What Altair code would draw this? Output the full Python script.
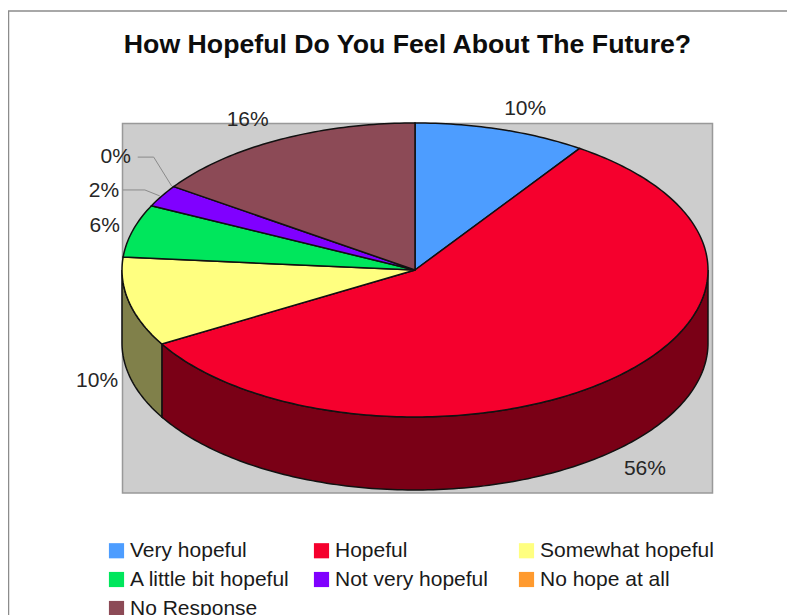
import math
import altair as alt

TITLE = "How Hopeful Do You Feel About The Future?"
categories = ["Very hopeful", "Hopeful", "Somewhat hopeful", "A little bit hopeful",
              "Not very hopeful", "No hope at all", "No Response"]
# slice sizes as read from the drawn sweep of each wedge, and the percentages printed beside them
shares = [9.5, 57.1, 9.8, 5.8, 2.4, 0, 15.4]
printed = ["10%", "56%", "10%", "6%", "2%", "0%", "16%"]
colors = ["#4d9dff", "#f5002d", "#ffff80", "#00e65c", "#8000ff", "#ff9a2e", "#8c4a56"]
wall_colors = ["#26507f", "#7a0016", "#80804a", "#00732e", "#400080", "#804d17", "#46252b"]
# per-label pixel nudges from the rim of each slice
label_nudges = [(24, -20), (30, 92), (-32, 79), (-28, -5), (-58, -5), (-58, -30), (-31, -20)]

FONT = "Liberation Sans"
CX, CY, RX, RY, DEPTH = 407, 262, 293, 147, 73
RATIO = RY / RX
DROP = DEPTH / RX


def rim(deg, drop=0.0):
    t = math.radians(deg)
    return [math.sin(t), RATIO * math.cos(t) - drop]


def sweep(a, b, drop=0.0):
    n = max(2, int(abs(b - a)) + 1)
    return [rim(a + (b - a) * i / (n - 1), drop) for i in range(n)]


def feature(kind, coords, **props):
    return {"type": "Feature", "properties": props, "geometry": {"type": kind, "coordinates": coords}}


tops, walls, labels, edges = [], [], [], []
acc = 0.0
for name, share, text, wall, nudge in zip(categories, shares, printed, wall_colors, label_nudges):
    a, b = acc * 3.6, (acc + share) * 3.6
    mid = (a + b) / 2
    lon, lat = rim(mid)
    labels.append((text, lon, lat, nudge))
    if share > 0:
        tops.append(feature("Polygon", [[[0, 0]] + sweep(a, b) + [[0, 0]]], name=name))
    lo, hi = max(a, 90), min(b, 270)
    if hi > lo:
        ring = sweep(lo, hi) + sweep(hi, lo, DROP)
        ring.append(ring[0])
        walls.append(feature("Polygon", [ring], fill=wall))
    acc += share

# leader lines for the two thinnest slices
for pos, path in [(5, [(-36, -29.5), (-20, -29.5), (-2, -0.5)]), (4, [(-39, -6), (-17, -6), (-2, 0)])]:
    _, lon, lat, _ = labels[pos]
    edges.append(feature("LineString", [[lon + dx / RX, lat - dy / RX] for dx, dy in path]))

proj = dict(type="identity", reflectY=True, scale=RX, translate=[CX, CY])
one = alt.Data(values=[{"a": 1}])

frame = alt.Chart(one).mark_rect(fill="white", stroke="#8c8c8c", strokeWidth=1.5).encode(
    x=alt.value(0.5), x2=alt.value(800), y=alt.value(3), y2=alt.value(800))
panel = alt.Chart(one).mark_rect(fill="#cdcdcd", stroke="#999999", strokeWidth=1.5).encode(
    x=alt.value(114.5), x2=alt.value(704.5), y=alt.value(115.5), y2=alt.value(485))
wall_layer = alt.Chart(alt.Data(values=walls)).mark_geoshape(stroke="#111111", strokeWidth=1.5).encode(
    fill=alt.Fill("properties.fill:N", scale=None)).project(**proj)
top_layer = alt.Chart(alt.Data(values=tops)).mark_geoshape(stroke="#111111", strokeWidth=1.5).encode(
    color=alt.Color("properties.name:N",
                    scale=alt.Scale(domain=categories, range=colors),
                    legend=alt.Legend(
                        title=None, orient="none", legendX=98, legendY=532, columns=3,
                        direction="horizontal",
                        gridAlign="all", columnPadding=7, rowPadding=7, padding=0,
                        symbolType="square", symbolSize=230, symbolStrokeWidth=0,
                        symbolOpacity=1, labelOffset=3, labelFont=FONT, labelFontSize=21,
                        labelColor="#1a1a1a", labelLimit=260))).project(**proj)
lead_layer = alt.Chart(alt.Data(values=edges)).mark_geoshape(
    filled=False, stroke="#8a8a8a", strokeWidth=1).project(**proj)

text_layers = []
for text, lon, lat, (dx, dy) in labels:
    text_layers.append(
        alt.Chart(alt.Data(values=[{"t": text, "lon": lon, "lat": lat}]))
        .mark_text(font=FONT, fontSize=21, color="#262626", dx=dx, dy=dy, align="center", baseline="middle")
        .encode(longitude="lon:Q", latitude="lat:Q", text="t:N")
        .project(**proj))

chart = alt.layer(frame, panel, wall_layer, top_layer, lead_layer, *text_layers).properties(
    width=779, height=607, padding=0, autosize=alt.AutoSizeParams(type="none"),
    title=alt.TitleParams(text=TITLE, font=FONT, fontSize=26.7, fontWeight="bold", color="#0d0d0d",
                          anchor="middle", dx=10, dy=72, baseline="alphabetic", offset=0),
).configure_view(stroke=None)

chart.save("out.html", embed_options={"renderer": "svg", "actions": False})
